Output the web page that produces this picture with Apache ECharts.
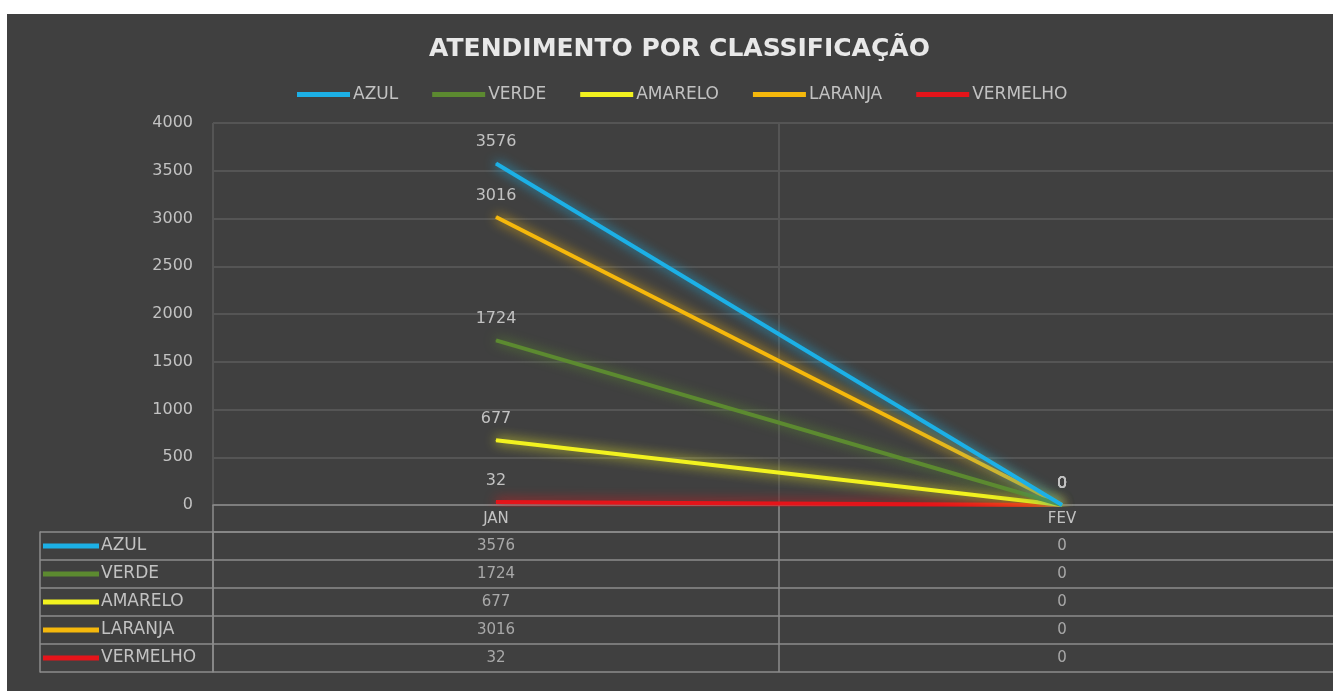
<!DOCTYPE html>
<html>
<head>
<meta charset="utf-8">
<script src="https://cdn.jsdelivr.net/npm/echarts@6/dist/echarts.min.js"></script>
<style>
  html, body { margin: 0; padding: 0; background: #ffffff; overflow: hidden; width: 1333px; height: 691px; }
  #chart { position: absolute; left: 7px; top: 14px; width: 1345px; height: 677px; }
</style>
</head>
<body>
<div id="chart"></div>
<script>
  // dados
  const meses = ['JAN', 'FEV']
  const nomes = ['AZUL', 'VERDE', 'AMARELO', 'LARANJA', 'VERMELHO']
  const cores = ['#1cb0e6', '#5c8a30', '#f2f21f', '#f5b80c', '#e5141a']
  const azul = [3576, 0]
  const verde = [1724, 0]
  const amarelo = [677, 0]
  const laranja = [3016, 0]
  const vermelho = [32, 0]
  const valores = [azul, verde, amarelo, laranja, vermelho]
  const yTicks = [0, 500, 1000, 1500, 2000, 2500, 3000, 3500, 4000]

  const textColor = '#c2c2c2'
  const fontFamily = '"DejaVu Sans", Verdana, sans-serif'
  const fontSize = 16
  const tableLine = '#8c8c8c'

  const chart = echarts.init(document.getElementById('chart'))

  const lineSeries = nomes.map((n, i) => ({
    name: n,
    type: 'line',
    xAxisIndex: 0,
    yAxisIndex: 0,
    data: valores[i],
    symbol: 'circle',
    symbolSize: 1,
    z: 10 - i,
    lineStyle: {
      width: 4,
      color: cores[i],
      shadowBlur: 12,
      shadowColor: cores[i]
    },
    itemStyle: { color: cores[i] },
    label: {
      show: true,
      position: 'top',
      distance: 13,
      color: textColor,
      fontSize: fontSize,
      fontFamily: fontFamily
    }
  }))

  // células da tabela de dados
  const cellData = []
  nomes.forEach((n, i) => {
    meses.forEach((m, j) => {
      cellData.push([m, n, valores[i][j]])
    })
  })

  const rich = {}
  nomes.forEach((n, i) => {
    rich['l' + i] = { width: 56, height: 5, backgroundColor: cores[i] }
  })
  rich.t = { color: textColor, fontSize: 17, fontFamily: fontFamily, padding: [0, 0, 0, 2] }

  const option = {
    backgroundColor: '#404040',
    title: {
      text: 'ATENDIMENTO POR CLASSIFICAÇÃO',
      left: 'center',
      top: 18,
      textStyle: {
        color: '#e8e8e8',
        fontSize: 25,
        fontWeight: 'bold',
        fontFamily: fontFamily
      }
    },
    legend: {
      data: nomes,
      left: 285,
      top: 67,
      icon: 'rect',
      itemWidth: 53,
      itemHeight: 5,
      itemGap: 34,
      textStyle: { color: textColor, fontSize: 17, fontFamily: fontFamily, padding: [0, 0, 0, -2] }
    },
    grid: [
      { left: 206, top: 109, width: 1132, height: 382 },
      { left: 206, top: 518, width: 1132, height: 140 }
    ],
    xAxis: [
      {
        type: 'category',
        gridIndex: 0,
        data: meses,
        boundaryGap: true,
        axisLine: { lineStyle: { color: tableLine, width: 1.5 } },
        axisTick: { show: true, length: 27, lineStyle: { color: tableLine, width: 1.5 } },
        axisLabel: { color: textColor, fontSize: fontSize - 1, fontFamily: fontFamily, margin: 7 },
        splitLine: { show: true, lineStyle: { color: '#555555', width: 2 } }
      },
      {
        type: 'category',
        gridIndex: 1,
        data: meses,
        position: 'top',
        boundaryGap: true,
        axisLine: { show: true, lineStyle: { color: tableLine, width: 1.5 } },
        axisTick: { show: false },
        axisLabel: { show: false },
        splitLine: { show: true, lineStyle: { color: tableLine, width: 1.5 } }
      }
    ],
    yAxis: [
      {
        type: 'value',
        gridIndex: 0,
        min: yTicks[0],
        max: yTicks[yTicks.length - 1],
        interval: 500,
        axisLine: { show: false },
        axisTick: { show: false },
        axisLabel: {
          color: textColor,
          fontSize: fontSize,
          fontFamily: fontFamily,
          margin: 20,
          formatter: v => String(v)
        },
        splitLine: { show: true, lineStyle: { color: '#555555', width: 2 } }
      },
      {
        type: 'category',
        gridIndex: 1,
        data: nomes,
        inverse: true,
        boundaryGap: true,
        axisLine: { show: true, lineStyle: { color: tableLine, width: 1.5 } },
        axisTick: { show: true, length: 173, lineStyle: { color: tableLine, width: 1.5 } },
        axisLabel: {
          align: 'left',
          margin: 170,
          formatter: (v, idx) => '{l' + idx + '| }{t|' + v + '}',
          rich: rich
        },
        splitLine: { show: true, lineStyle: { color: tableLine, width: 1.5 } }
      },
      {
        type: 'category',
        gridIndex: 1,
        data: nomes,
        inverse: true,
        position: 'left',
        offset: 173,
        axisLine: { show: true, lineStyle: { color: tableLine, width: 1.5 } },
        axisTick: { show: false },
        axisLabel: { show: false },
        splitLine: { show: false }
      }
    ],
    series: lineSeries.concat([
      {
        type: 'scatter',
        xAxisIndex: 1,
        yAxisIndex: 1,
        data: cellData,
        symbolSize: 1,
        itemStyle: { color: 'rgba(0,0,0,0)' },
        silent: true,
        label: {
          show: true,
          position: 'inside',
          formatter: p => String(p.value[2]),
          color: textColor,
          fontSize: fontSize - 1,
          fontFamily: fontFamily
        }
      }
    ])
  }

  chart.setOption(option)
  window.addEventListener('resize', () => {
    chart.resize()
  })
</script>
</body>
</html>
